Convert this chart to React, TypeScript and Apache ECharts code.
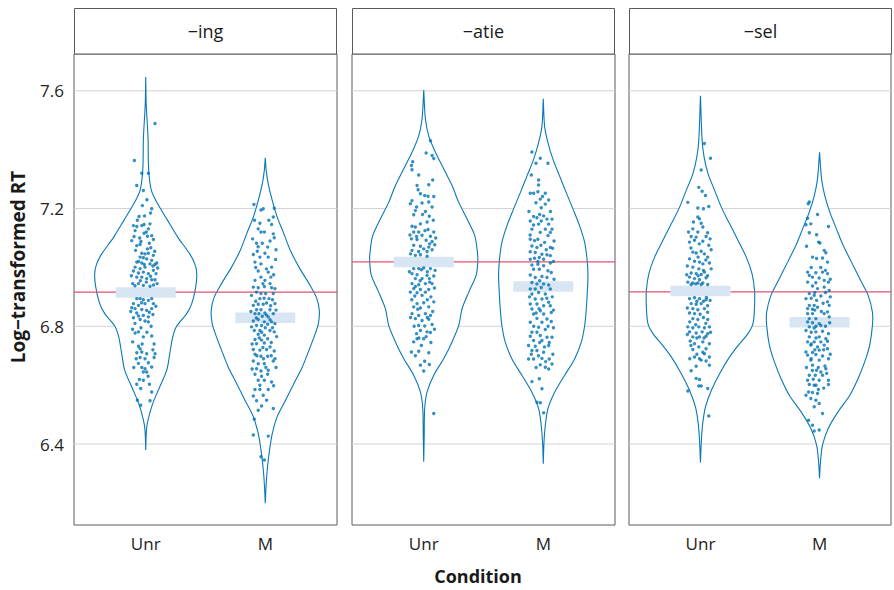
import React, { useEffect, useRef } from 'react';
import * as echarts from 'echarts';

const PANELS = ['\u2212ing', '\u2212atie', '\u2212sel'];
const CONDITIONS = ['Unr', 'M'];
const Y_TICKS = [6.4, 6.8, 7.2, 7.6];
const MEAN_UNR = [6.915, 7.018, 6.920];
const MEAN_M = [6.829, 6.935, 6.814];
const REF_LINE = [6.916, 7.019, 6.917];

// violin outlines: y levels and half widths (x-axis units)
const VY_ING_UNR = [7.647, 7.555, 7.442, 7.329, 7.261, 7.216, 7.159, 7.103, 7.046, 7.013, 6.979, 6.933, 6.877, 6.843, 6.801, 6.764, 6.707, 6.651, 6.594, 6.538, 6.481, 6.447, 6.380];
const VW_ING_UNR = [0, 0.004, 0.019, 0.025, 0.048, 0.100, 0.184, 0.268, 0.368, 0.410, 0.427, 0.418, 0.385, 0.343, 0.259, 0.226, 0.201, 0.176, 0.117, 0.059, 0.019, 0.006, 0];
const VY_ING_M = [7.372, 7.329, 7.284, 7.227, 7.171, 7.114, 7.058, 7.001, 6.945, 6.899, 6.854, 6.809, 6.764, 6.719, 6.662, 6.606, 6.549, 6.493, 6.436, 6.380, 6.323, 6.267, 6.199];
const VW_ING_M = [0, 0.008, 0.025, 0.059, 0.100, 0.156, 0.209, 0.282, 0.366, 0.427, 0.452, 0.444, 0.408, 0.366, 0.310, 0.240, 0.170, 0.100, 0.059, 0.036, 0.019, 0.008, 0];
const VY_ATIE_UNR = [7.603, 7.504, 7.447, 7.391, 7.335, 7.278, 7.221, 7.165, 7.108, 7.052, 7.018, 6.973, 6.916, 6.860, 6.803, 6.747, 6.690, 6.634, 6.577, 6.521, 6.431, 6.340];
const VW_ATIE_UNR = [0, 0.014, 0.042, 0.098, 0.167, 0.237, 0.293, 0.362, 0.427, 0.449, 0.452, 0.438, 0.377, 0.321, 0.293, 0.237, 0.167, 0.084, 0.028, 0.008, 0.004, 0];
const VY_ATIE_M = [7.573, 7.480, 7.424, 7.367, 7.311, 7.254, 7.198, 7.141, 7.085, 7.028, 6.972, 6.915, 6.859, 6.802, 6.746, 6.689, 6.633, 6.576, 6.520, 6.463, 6.407, 6.333];
const VW_ATIE_M = [0, 0.011, 0.039, 0.081, 0.136, 0.192, 0.249, 0.304, 0.346, 0.366, 0.374, 0.368, 0.360, 0.346, 0.318, 0.262, 0.178, 0.095, 0.039, 0.017, 0.006, 0];
const VY_SEL_UNR = [7.583, 7.431, 7.374, 7.318, 7.261, 7.204, 7.148, 7.092, 7.035, 6.979, 6.922, 6.865, 6.809, 6.775, 6.741, 6.696, 6.640, 6.583, 6.526, 6.470, 6.414, 6.337];
const VW_SEL_UNR = [0, 0.014, 0.031, 0.064, 0.120, 0.176, 0.245, 0.315, 0.385, 0.433, 0.454, 0.454, 0.441, 0.399, 0.329, 0.245, 0.162, 0.092, 0.042, 0.019, 0.008, 0];
const VY_SEL_M = [7.391, 7.301, 7.244, 7.188, 7.131, 7.075, 7.018, 6.962, 6.905, 6.848, 6.803, 6.736, 6.679, 6.623, 6.566, 6.510, 6.453, 6.397, 6.340, 6.284];
const VW_SEL_M = [0, 0.017, 0.044, 0.086, 0.142, 0.198, 0.268, 0.337, 0.408, 0.444, 0.444, 0.421, 0.379, 0.324, 0.254, 0.156, 0.073, 0.025, 0.008, 0];

// jittered observations: [x offset from condition centre, log RT]
const PTS_ING_UNR = [[0.078,7.489],[-0.095,7.363],[-0.033,7.320],[0.022,7.320],[-0.075,7.278],[-0.020,7.261],[-0.028,7.210],[0.050,7.199],[-0.056,7.173],[-0.103,7.142],[-0.075,7.139],[-0.033,7.142],[-0.014,7.146],[0.036,7.148],[-0.089,7.125],[0.022,7.131],[-0.014,7.116],[0.050,7.108],[0.014,7.106],[-0.117,7.091],[-0.075,7.074],[-0.047,7.078],[0.014,7.063],[0.042,7.067],[-0.033,7.048],[-0.006,7.046],[0.022,7.048],[0.064,7.041],[-0.047,7.035],[-0.020,7.033],[0.008,7.029],[0.050,7.024],[0.092,7.015],[-0.075,7.018],[-0.033,7.015],[0.036,7.012],[0.078,7.010],[-0.089,7.001],[-0.047,6.996],[-0.006,7.001],[0.064,6.990],[-0.103,6.988],[-0.061,6.981],[-0.020,6.984],[0.022,6.979],[0.086,6.979],[-0.075,6.967],[-0.033,6.967],[0.008,6.962],[0.050,6.958],[0.078,6.958],[-0.109,6.945],[-0.061,6.945],[-0.020,6.939],[0.036,6.936],[-0.075,6.894],[-0.047,6.894],[-0.020,6.890],[0.022,6.888],[0.050,6.894],[-0.103,6.877],[-0.061,6.871],[-0.006,6.877],[0.064,6.877],[-0.117,6.863],[-0.089,6.860],[-0.033,6.857],[0.008,6.854],[0.050,6.860],[-0.075,6.845],[-0.020,6.837],[0.022,6.832],[-0.103,6.829],[-0.047,6.823],[-0.006,6.818],[0.022,6.815],[-0.089,6.777],[-0.061,6.781],[-0.020,6.764],[0.050,6.767],[-0.109,6.747],[-0.061,6.732],[-0.047,6.724],[-0.075,6.710],[-0.033,6.713],[0.008,6.707],[0.078,6.707],[-0.047,6.694],[0.070,6.694],[-0.006,6.690],[-0.061,6.674],[0.022,6.676],[-0.033,6.660],[-0.006,6.656],[0.050,6.662],[-0.020,6.645],[0.008,6.645],[-0.053,6.619],[-0.020,6.617],[-0.075,6.603],[0.031,6.603],[-0.042,6.589],[0.050,6.577],[-0.070,6.549],[0.036,6.547],[-0.042,6.532],
  [-0.098,7.105],[0.064,7.095],[-0.040,7.088],[0.030,7.082],[-0.085,7.058],[0.075,7.055],[-0.060,7.020],[0.060,7.005],[-0.012,7.010],[0.100,6.998],[-0.120,6.972],[0.040,6.970],[-0.045,6.955],[0.095,6.945],[0.005,6.950],[-0.090,6.938],[0.065,6.940],[-0.035,6.880],[0.085,6.868],[-0.125,6.850],[0.030,6.848],[-0.060,6.835],[0.060,6.840],[-0.090,6.810],[0.045,6.800],[-0.040,6.795],[-0.110,6.790],[0.010,6.780],[0.070,6.740],[-0.030,6.740],[-0.080,6.690],[0.020,6.630],[-0.100,6.660],[0.060,6.720],[-0.010,7.175],[0.040,7.185],[-0.070,7.160],[0.010,7.230],[-0.050,7.100],[0.005,7.120]];
const PTS_ING_M = [[-0.095,7.214],[-0.036,7.195],[-0.017,7.199],[0.075,7.201],[0.067,7.171],[-0.045,7.150],[0.053,7.146],[-0.036,7.120],[-0.008,7.120],[-0.059,7.131],[0.067,7.114],[0.075,7.101],[-0.106,7.097],[-0.073,7.082],[-0.025,7.082],[0.020,7.069],[-0.100,7.044],[-0.067,7.055],[-0.003,7.048],[-0.045,7.035],[0.025,7.035],[0.086,7.027],[-0.086,7.018],[-0.036,7.012],[0.053,7.001],[-0.059,6.988],[0.025,6.984],[-0.036,6.967],[0.047,6.967],[-0.086,6.956],[-0.003,6.956],[-0.100,6.933],[-0.059,6.931],[-0.008,6.935],[0.053,6.931],[0.081,6.928],[-0.073,6.916],[-0.036,6.911],[0.003,6.911],[0.067,6.911],[-0.045,6.894],[0.031,6.894],[0.081,6.877],[-0.100,6.871],[-0.059,6.875],[-0.017,6.875],[0.011,6.879],[-0.073,6.856],[-0.036,6.856],[0.039,6.856],[-0.086,6.843],[-0.053,6.843],[-0.003,6.845],[0.067,6.843],[-0.025,6.834],[0.025,6.832],[-0.100,6.818],[-0.059,6.823],[-0.008,6.815],[0.053,6.815],[-0.073,6.803],[-0.031,6.803],[0.020,6.807],[0.081,6.809],[-0.092,6.786],[-0.045,6.786],[0.039,6.786],[0.075,6.781],[-0.059,6.773],[-0.008,6.770],[-0.086,6.755],[-0.031,6.753],[0.020,6.758],[-0.073,6.741],[-0.008,6.743],[-0.100,6.721],[-0.045,6.719],[0.011,6.721],[0.075,6.716],[-0.086,6.705],[-0.036,6.698],[0.020,6.698],[0.081,6.690],[-0.100,6.682],[-0.059,6.673],[-0.008,6.673],[0.067,6.682],[-0.073,6.656],[0.025,6.651],[-0.036,6.648],[-0.086,6.637],[-0.031,6.630],[0.020,6.637],[-0.059,6.617],[-0.008,6.617],[0.053,6.611],[-0.086,6.585],[-0.045,6.585],[0.025,6.585],[-0.100,6.563],[-0.017,6.566],[-0.073,6.547],[0.011,6.549],[-0.031,6.529],[-0.059,6.515],[0.067,6.521],[-0.092,6.484],[-0.100,6.431],[0.025,6.427],[-0.036,6.357],[-0.008,6.346],
  [0.090,7.060],[-0.080,7.000],[0.010,6.995],[0.070,6.975],[-0.020,6.945],[0.040,6.945],[-0.115,6.905],[-0.010,6.895],[0.060,6.890],[-0.080,6.885],[0.045,6.870],[-0.120,6.850],[0.090,6.855],[0.010,6.838],[-0.075,6.828],[0.040,6.822],[-0.115,6.798],[0.000,6.795],[0.060,6.795],[-0.030,6.780],[0.095,6.765],[-0.050,6.760],[0.050,6.745],[-0.110,6.740],[0.040,6.730],[-0.020,6.728],[-0.070,6.700],[0.050,6.700],[-0.015,6.690],[0.090,6.660],[-0.110,6.655],[0.005,6.660],[-0.045,6.600],[0.070,6.598],[-0.060,7.070],[0.040,7.090],[-0.090,7.160],[0.030,7.160]];
const PTS_ATIE_UNR = [[0.056,7.430],[0.020,7.389],[0.070,7.380],[0.084,7.370],[-0.092,7.359],[-0.103,7.346],[-0.098,7.332],[-0.042,7.314],[0.075,7.297],[0.042,7.281],[-0.056,7.278],[-0.047,7.264],[-0.028,7.250],[0.008,7.244],[0.036,7.242],[0.084,7.241],[-0.098,7.227],[-0.112,7.216],[-0.014,7.219],[0.042,7.222],[-0.070,7.193],[0.014,7.190],[-0.084,7.179],[0.047,7.174],[-0.098,7.140],[-0.070,7.137],[-0.028,7.148],[0.028,7.154],[-0.084,7.120],[-0.042,7.120],[0.036,7.129],[0.084,7.120],[-0.014,7.109],[0.056,7.106],[-0.103,7.097],[-0.056,7.095],[0.020,7.092],[0.070,7.088],[-0.084,7.075],[-0.028,7.072],[0.000,7.063],[0.042,7.069],[0.092,7.077],[-0.098,7.058],[-0.042,7.054],[0.028,7.054],[-0.070,7.041],[-0.028,7.043],[0.028,7.038],[-0.084,6.996],[-0.042,6.996],[0.000,6.998],[0.056,6.996],[-0.098,6.979],[-0.056,6.975],[0.028,6.973],[0.084,6.971],[-0.070,6.962],[-0.014,6.962],[0.047,6.962],[-0.098,6.945],[-0.042,6.941],[0.014,6.945],[0.070,6.945],[-0.084,6.928],[-0.028,6.925],[0.042,6.925],[-0.112,6.916],[-0.056,6.914],[0.014,6.916],[-0.075,6.903],[-0.014,6.905],[0.084,6.883],[-0.056,6.877],[0.000,6.880],[-0.084,6.866],[-0.028,6.862],[0.042,6.866],[-0.098,6.843],[-0.042,6.837],[0.014,6.843],[0.056,6.837],[-0.070,6.826],[-0.014,6.820],[0.042,6.824],[-0.042,6.803],[0.008,6.801],[0.070,6.806],[-0.028,6.786],[0.028,6.781],[0.056,6.779],[-0.056,6.758],[-0.084,6.747],[0.000,6.758],[-0.103,6.713],[-0.042,6.715],[0.042,6.710],[0.008,6.681],[-0.028,6.668],[0.047,6.670],[0.000,6.648],[0.084,6.504],
  [-0.060,7.205],[0.070,7.205],[-0.010,7.180],[0.080,7.160],[-0.115,7.110],[0.010,7.125],[-0.060,7.105],[0.100,7.100],[0.050,7.080],[-0.110,7.046],[0.070,7.060],[-0.020,6.992],[-0.120,6.985],[0.030,6.985],[0.095,6.990],[-0.030,6.955],[0.050,6.950],[-0.070,6.935],[0.090,6.930],[0.060,6.900],[-0.100,6.890],[0.030,6.890],[-0.050,6.858],[0.075,6.850],[-0.110,6.830],[0.030,6.830],[-0.080,6.800],[0.090,6.790],[-0.060,6.775],[0.020,6.765],[-0.020,6.735],[0.060,6.745],[-0.070,6.700],[-0.040,6.760]];
const PTS_ATIE_M = [[-0.095,7.392],[-0.025,7.371],[-0.061,7.354],[0.039,7.354],[-0.100,7.314],[-0.039,7.297],[-0.039,7.280],[-0.109,7.252],[-0.081,7.252],[-0.045,7.257],[0.017,7.252],[-0.006,7.241],[-0.025,7.232],[-0.061,7.220],[0.045,7.229],[0.017,7.215],[-0.017,7.203],[-0.081,7.173],[-0.053,7.169],[0.003,7.175],[-0.109,7.158],[-0.017,7.158],[0.031,7.164],[0.073,7.164],[-0.081,7.144],[-0.039,7.147],[0.045,7.147],[-0.095,7.130],[0.017,7.130],[0.073,7.130],[-0.025,7.119],[0.059,7.119],[-0.109,7.096],[-0.073,7.091],[-0.045,7.096],[0.011,7.085],[-0.095,7.073],[-0.053,7.068],[0.059,7.068],[0.078,7.065],[-0.109,7.053],[-0.067,7.051],[-0.011,7.045],[0.031,7.043],[-0.109,7.028],[-0.073,7.031],[-0.033,7.034],[0.003,7.028],[0.059,7.040],[-0.095,7.008],[-0.045,7.011],[0.003,7.006],[0.059,7.015],[-0.081,6.994],[-0.033,6.994],[0.039,6.989],[0.067,6.983],[-0.109,6.974],[-0.067,6.966],[-0.011,6.969],[0.031,6.966],[-0.095,6.949],[-0.053,6.944],[0.003,6.944],[0.045,6.940],[-0.109,6.927],[-0.067,6.927],[-0.017,6.932],[0.059,6.927],[-0.095,6.910],[-0.039,6.915],[0.017,6.910],[-0.067,6.893],[-0.011,6.893],[0.045,6.882],[-0.109,6.876],[-0.053,6.876],[0.003,6.870],[0.059,6.870],[-0.095,6.859],[-0.025,6.853],[-0.081,6.842],[0.003,6.842],[0.067,6.847],[-0.053,6.827],[0.031,6.825],[-0.109,6.814],[-0.011,6.814],[0.067,6.816],[-0.039,6.797],[0.017,6.789],[-0.095,6.780],[-0.053,6.780],[-0.109,6.766],[-0.025,6.769],[0.031,6.763],[0.073,6.763],[-0.081,6.752],[-0.011,6.752],[-0.123,6.735],[-0.067,6.732],[0.045,6.735],[-0.095,6.718],[-0.053,6.718],[0.003,6.712],[-0.123,6.689],[-0.081,6.689],[-0.011,6.691],[0.050,6.689],[-0.025,6.669],[0.017,6.661],[0.045,6.655],[0.073,6.672],[-0.095,6.612],[-0.033,6.622],[-0.011,6.588],[-0.053,6.542],[-0.025,6.540],[0.003,6.506],
  [-0.120,7.190],[0.060,7.190],[-0.030,7.180],[-0.110,7.110],[0.040,7.108],[0.090,7.090],[-0.020,7.075],[0.025,7.060],[-0.045,7.020],[0.085,7.020],[0.090,6.960],[-0.030,6.955],[0.075,6.900],[-0.115,6.900],[0.030,6.895],[-0.035,6.860],[0.085,6.855],[-0.060,6.845],[0.040,6.800],[-0.080,6.800],[0.085,6.795],[-0.030,6.745],[0.050,6.745],[0.010,6.730],[-0.100,6.705],[0.080,6.705],[-0.040,6.700],[0.020,6.680],[-0.060,6.660]];
const PTS_SEL_UNR = [[0.033,7.421],[0.084,7.371],[0.006,7.331],[-0.014,7.272],[0.014,7.259],[0.042,7.244],[-0.106,7.221],[-0.022,7.202],[0.025,7.199],[0.070,7.207],[-0.022,7.171],[-0.008,7.165],[-0.059,7.154],[0.006,7.150],[0.020,7.137],[-0.064,7.131],[-0.022,7.120],[-0.078,7.105],[-0.036,7.103],[-0.050,7.092],[0.047,7.105],[0.081,7.097],[-0.092,7.086],[0.020,7.089],[0.070,7.075],[-0.064,7.052],[-0.036,7.049],[0.006,7.055],[0.033,7.046],[0.061,7.035],[-0.092,7.029],[-0.050,7.021],[-0.008,7.018],[0.020,7.012],[0.075,7.015],[-0.064,7.001],[-0.014,6.995],[0.025,6.990],[-0.078,6.981],[-0.036,6.979],[0.006,6.976],[0.033,6.984],[-0.092,6.967],[-0.050,6.962],[-0.008,6.958],[0.047,6.965],[-0.106,6.950],[-0.064,6.947],[-0.022,6.947],[0.020,6.947],[0.061,6.942],[-0.078,6.942],[0.006,6.942],[-0.092,6.894],[-0.050,6.897],[-0.008,6.894],[0.047,6.890],[0.081,6.888],[-0.078,6.877],[-0.036,6.875],[0.006,6.877],[-0.064,6.860],[-0.022,6.856],[0.033,6.860],[-0.092,6.845],[-0.050,6.843],[-0.003,6.841],[-0.064,6.826],[-0.022,6.823],[0.061,6.823],[-0.106,6.798],[-0.064,6.795],[-0.014,6.798],[0.033,6.795],[0.075,6.798],[-0.092,6.781],[-0.036,6.777],[0.014,6.781],[0.061,6.775],[-0.064,6.764],[-0.008,6.764],[0.047,6.766],[-0.086,6.750],[-0.050,6.741],[0.020,6.747],[0.075,6.741],[-0.014,6.730],[0.047,6.724],[-0.064,6.721],[0.033,6.707],[-0.050,6.696],[-0.008,6.690],[0.075,6.696],[0.006,6.685],[0.047,6.682],[-0.036,6.664],[0.075,6.668],[-0.078,6.649],[-0.008,6.619],[-0.036,6.623],[0.006,6.597],[0.061,6.589],[-0.106,6.580],[-0.014,6.597],[0.070,6.495],
  [-0.100,7.120],[0.060,7.118],[-0.010,7.080],[0.090,7.060],[-0.080,7.066],[-0.020,7.035],[0.045,7.025],[0.090,6.995],[-0.110,7.005],[0.060,6.972],[-0.020,6.972],[-0.115,6.975],[-0.040,6.944],[0.050,6.898],[-0.030,6.885],[0.025,6.885],[0.060,6.870],[-0.110,6.862],[0.060,6.848],[0.025,6.830],[-0.090,6.815],[0.045,6.810],[-0.040,6.805],[-0.110,6.772],[0.085,6.780],[-0.030,6.760],[0.030,6.760],[-0.080,6.735],[0.020,6.712],[-0.030,6.705],[-0.090,6.690]];
const PTS_SEL_M = [[-0.086,7.222],[-0.095,7.216],[-0.017,7.180],[-0.100,7.167],[0.075,7.139],[-0.114,7.145],[-0.073,7.148],[-0.086,7.118],[-0.025,7.111],[-0.008,7.086],[0.003,7.083],[-0.109,7.072],[0.039,7.058],[0.053,7.050],[-0.059,7.035],[-0.025,7.030],[0.025,7.032],[0.067,7.018],[-0.100,6.984],[-0.031,6.982],[0.025,6.984],[0.067,6.979],[-0.086,6.973],[-0.059,6.967],[-0.003,6.964],[0.039,6.956],[-0.100,6.950],[-0.031,6.948],[0.075,6.950],[-0.059,6.937],[-0.017,6.928],[0.039,6.933],[0.081,6.922],[-0.086,6.911],[-0.045,6.905],[0.011,6.903],[-0.114,6.894],[-0.025,6.888],[0.067,6.883],[-0.086,6.871],[-0.045,6.871],[-0.100,6.860],[-0.059,6.858],[-0.017,6.865],[0.081,6.871],[-0.100,6.843],[-0.059,6.843],[0.039,6.843],[0.067,6.849],[-0.086,6.826],[-0.031,6.826],[0.081,6.832],[-0.100,6.815],[-0.059,6.812],[-0.003,6.809],[-0.086,6.798],[-0.045,6.794],[0.011,6.803],[-0.114,6.786],[-0.031,6.781],[0.025,6.783],[-0.086,6.764],[-0.003,6.764],[0.053,6.758],[-0.100,6.747],[-0.045,6.747],[0.011,6.747],[0.067,6.749],[-0.073,6.736],[-0.017,6.730],[0.039,6.736],[-0.114,6.713],[-0.059,6.711],[-0.003,6.719],[0.067,6.724],[-0.100,6.702],[-0.031,6.704],[0.025,6.699],[-0.073,6.685],[-0.003,6.685],[0.075,6.690],[-0.059,6.668],[-0.025,6.651],[0.011,6.645],[0.053,6.656],[-0.086,6.634],[-0.036,6.634],[0.025,6.634],[-0.100,6.617],[-0.053,6.620],[-0.003,6.617],[0.075,6.617],[-0.086,6.602],[-0.045,6.600],[0.075,6.602],[-0.092,6.577],[-0.059,6.575],[-0.017,6.572],[-0.114,6.566],[-0.073,6.555],[-0.031,6.549],[-0.003,6.538],[-0.045,6.527],[0.025,6.504],[-0.092,6.481],[-0.059,6.464],[-0.045,6.444],[-0.003,6.448],
  [0.010,7.000],[-0.070,7.000],[0.050,6.990],[0.090,6.960],[-0.040,6.915],[0.050,6.915],[-0.070,6.895],[0.030,6.878],[0.090,6.900],[-0.040,6.855],[0.015,6.850],[0.085,6.812],[-0.030,6.800],[0.050,6.800],[-0.070,6.780],[0.075,6.775],[-0.030,6.760],[-0.070,6.740],[0.035,6.720],[-0.040,6.720],[0.090,6.705],[-0.070,6.690],[0.045,6.665],[-0.110,6.660],[-0.010,6.660],[0.060,6.640],[-0.060,6.650],[0.035,6.590],[-0.030,6.600],[-0.010,6.585]];

const VIOLIN_Y = [[VY_ING_UNR, VY_ING_M], [VY_ATIE_UNR, VY_ATIE_M], [VY_SEL_UNR, VY_SEL_M]];
const VIOLIN_W = [[VW_ING_UNR, VW_ING_M], [VW_ATIE_UNR, VW_ATIE_M], [VW_SEL_UNR, VW_SEL_M]];
const POINTS = [[PTS_ING_UNR, PTS_ING_M], [PTS_ATIE_UNR, PTS_ATIE_M], [PTS_SEL_UNR, PTS_SEL_M]];

const FONT = '"Open Sans", "Noto Sans", sans-serif';
const PANEL_LEFT = [74, 352, 629];
const PANEL_W = 263;
const PLOT_TOP = 54;
const PLOT_H = 471;
const X_MIN = 0.4;
const X_MAX = 2.6;
const BLUE = '#0a78b6';

export default function App() {
  const ref = useRef<HTMLDivElement>(null);
  useEffect(() => {
    if (!ref.current) return;
    const chart = echarts.init(ref.current, null, { renderer: 'svg' });
    const grid: any[] = [];
    const xAxis: any[] = [];
    const yAxis: any[] = [];
    const series: any[] = [];
    const graphic: any[] = [];

    PANELS.forEach((name, pi) => {
      grid.push({ left: PANEL_LEFT[pi], top: PLOT_TOP, width: PANEL_W, height: PLOT_H, show: true, borderColor: '#5a5a5a', borderWidth: 1, backgroundColor: '#ffffff' });
      xAxis.push({
        type: 'value', gridIndex: pi, min: X_MIN, max: X_MAX, interval: 0.2,
        axisLine: { show: false }, axisTick: { show: false }, splitLine: { show: false },
        axisLabel: {
          margin: 10, fontSize: 17, color: '#222', fontFamily: FONT,
          formatter: (v: number) => {
            const k = Math.round(v);
            return Math.abs(v - k) < 1e-6 && k >= 1 && k <= CONDITIONS.length ? CONDITIONS[k - 1] : '';
          },
        },
      });
      yAxis.push({
        type: 'value', gridIndex: pi, min: 6.125, max: 7.725, interval: 0.025,
        axisLine: { show: false }, axisTick: { show: false }, splitLine: { show: false },
        axisLabel: {
          show: pi === 0, margin: 10, fontSize: 17, color: '#222', fontFamily: FONT,
          formatter: (v: number) => {
            const t = Y_TICKS.find((tt) => Math.abs(tt - v) < 1e-6);
            return t !== undefined ? t.toFixed(1) : '';
          },
        },
      });

      series.push({
        type: 'custom', xAxisIndex: pi, yAxisIndex: pi, z: 1, silent: true,
        data: Y_TICKS.map((t) => [X_MIN, t]),
        renderItem: (params: any, api: any) => {
          const a = api.coord([X_MIN, api.value(1)]);
          const b = api.coord([X_MAX, api.value(1)]);
          return { type: 'line', shape: { x1: a[0], y1: a[1], x2: b[0], y2: b[1] }, style: { stroke: '#d3d3d3', lineWidth: 1 } };
        },
      });
      series.push({
        type: 'custom', xAxisIndex: pi, yAxisIndex: pi, z: 2, silent: true,
        data: [[1, MEAN_UNR[pi], 0], [2, MEAN_M[pi], 1]],
        renderItem: (params: any, api: any) => {
          const xc = api.value(0);
          const gi = api.value(2);
          const vy = VIOLIN_Y[pi][gi];
          const vw = VIOLIN_W[pi][gi];
          const right = vy.map((y, i) => api.coord([xc + vw[i], y]));
          const left = vy.map((y, i) => api.coord([xc - vw[i], y])).reverse();
          return { type: 'polygon', shape: { points: right.concat(left), smooth: 0.3 }, style: { fill: '#ffffff', stroke: BLUE, lineWidth: 1.1 } };
        },
      });
      series.push({
        type: 'custom', xAxisIndex: pi, yAxisIndex: pi, z: 3, silent: true,
        data: [[X_MIN, REF_LINE[pi]]],
        renderItem: (params: any, api: any) => {
          const a = api.coord([X_MIN, api.value(1)]);
          const b = api.coord([X_MAX, api.value(1)]);
          return { type: 'line', shape: { x1: a[0], y1: a[1], x2: b[0], y2: b[1] }, style: { stroke: '#e2506f', lineWidth: 1.2 } };
        },
      });
      series.push({
        type: 'custom', xAxisIndex: pi, yAxisIndex: pi, z: 4, silent: true,
        data: [[1, MEAN_UNR[pi]], [2, MEAN_M[pi]]],
        renderItem: (params: any, api: any) => {
          const c = api.coord([api.value(0), api.value(1)]);
          return { type: 'rect', shape: { x: c[0] - 30, y: c[1] - 5.25, width: 60, height: 10.5 }, style: { fill: '#d8e5f3' } };
        },
      });
      const pts: number[][] = [];
      POINTS[pi].forEach((arr, gi) => arr.forEach(([dx, y]) => pts.push([gi + 1 + dx, y])));
      series.push({
        type: 'scatter', xAxisIndex: pi, yAxisIndex: pi, z: 5, silent: true,
        symbol: 'circle', symbolSize: 3.4, itemStyle: { color: '#0072b2' },
        data: pts,
      });

      graphic.push({
        type: 'rect', shape: { x: PANEL_LEFT[pi] + 0.5, y: 8.5, width: PANEL_W - 1, height: PLOT_TOP - 8.5 },
        style: { fill: '#ffffff', stroke: '#5a5a5a', lineWidth: 1 },
      });
      graphic.push({
        type: 'text', x: PANEL_LEFT[pi] + PANEL_W / 2, y: 31,
        style: { text: name, fontSize: 18, fontFamily: FONT, fill: '#1a1a1a', textAlign: 'center', textVerticalAlign: 'middle' },
      });
    });

    graphic.push({
      type: 'text', x: 18, y: 267, rotation: Math.PI / 2,
      style: { text: 'Log\u2212transformed RT', fontSize: 19, fontWeight: 'bold', fontFamily: FONT, fill: '#1a1a1a', textAlign: 'center', textVerticalAlign: 'middle' },
    });
    graphic.push({
      type: 'text', x: 478, y: 576,
      style: { text: 'Condition', fontSize: 18, fontWeight: 'bold', fontFamily: FONT, fill: '#1a1a1a', textAlign: 'center', textVerticalAlign: 'middle' },
    });

    chart.setOption({ animation: false, backgroundColor: '#ffffff', grid, xAxis, yAxis, series, graphic });
    return () => chart.dispose();
  }, []);
  return <div ref={ref} style={{ position: 'fixed', left: 0, top: 0, width: 894, height: 590 }} />;
}
